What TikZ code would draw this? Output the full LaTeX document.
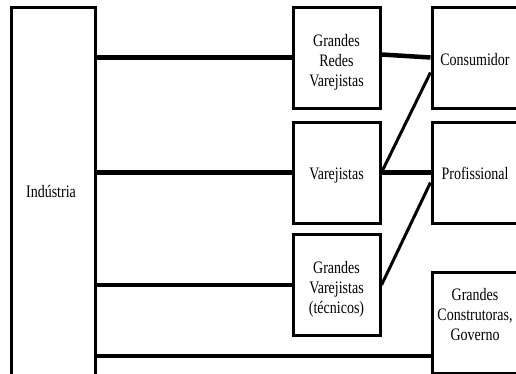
\documentclass[tikz,border=0pt]{standalone}
\usepackage{fontspec}
\usepackage{graphicx}
\setmainfont{Liberation Serif}
% tall, narrow label text
\newcommand{\tallt}[1]{\scalebox{1}[1.25]{\begin{tabular}{@{}c@{}}#1\end{tabular}}}
\begin{document}
\begin{tikzpicture}[x=1pt,y=-1pt,
  box/.style={draw, line width=3pt, inner sep=0pt},
  midbox/.style={box, minimum width=87pt, minimum height=101pt},
  endbox/.style={box, minimum width=86pt, minimum height=101pt},
  txt/.style={inner sep=0pt, align=center,
    font=\fontsize{14}{16}\selectfont\renewcommand{\arraystretch}{1}},
  link/.style={line width=4.5pt},
  cross/.style={line width=3pt}]
\useasboundingbox (0,0) rectangle (516,373);
\clip (0,0) rectangle (516,373);
% producer column
\node[box, minimum width=84pt, minimum height=373pt] (ind) at (53,193.5) {};
\node[txt] (indt) at (51,193) {\tallt{Ind\'ustria}};
% intermediaries
\node[midbox] (grv) at (336.5,57.5) {};
\node[midbox] (var) at (336.5,172.5) {};
\node[midbox] (gvt) at (336.5,285) {};
\node[txt] (grvt) at (336.5,62) {\tallt{Grandes\\Redes\\Varejistas}};
\node[txt] (vart) at (336.5,175) {\tallt{Varejistas}};
\node[txt] (gvtt) at (336.5,289) {\tallt{Grandes\\Varejistas\\(t\'ecnicos)}};
% final customers
\node[endbox] (cons) at (475,57.5) {};
\node[endbox] (prof) at (475,172.5) {};
\node[endbox] (gc) at (475,323) {};
\node[txt] (const) at (475,61) {\tallt{Consumidor}};
\node[txt] (proft) at (475,175) {\tallt{Profissional}};
\node[txt] (gct) at (475,316) {\tallt{Grandes\\Construtoras,\\Governo}};
\coordinate (low) at (0,356);
% channels from the producer
\draw[link] (ind.east |- grv.west) -- (grv.west);
\draw[link] (ind.east |- var.west) -- (var.west);
\draw[link] (ind.east |- gvt.west) -- (gvt.west);
\draw[link] (ind.east |- low) -- (gc.west |- low);
% channels to the customers
\draw[link] ([yshift=3pt]grv.east) -- (cons.west);
\draw[cross] (var.east) -- ([yshift=-15pt]cons.west);
\draw[link] (var.east) -- (prof.west);
\draw[cross] (gvt.east) -- ([yshift=-10pt]prof.west);
\end{tikzpicture}
\end{document}
